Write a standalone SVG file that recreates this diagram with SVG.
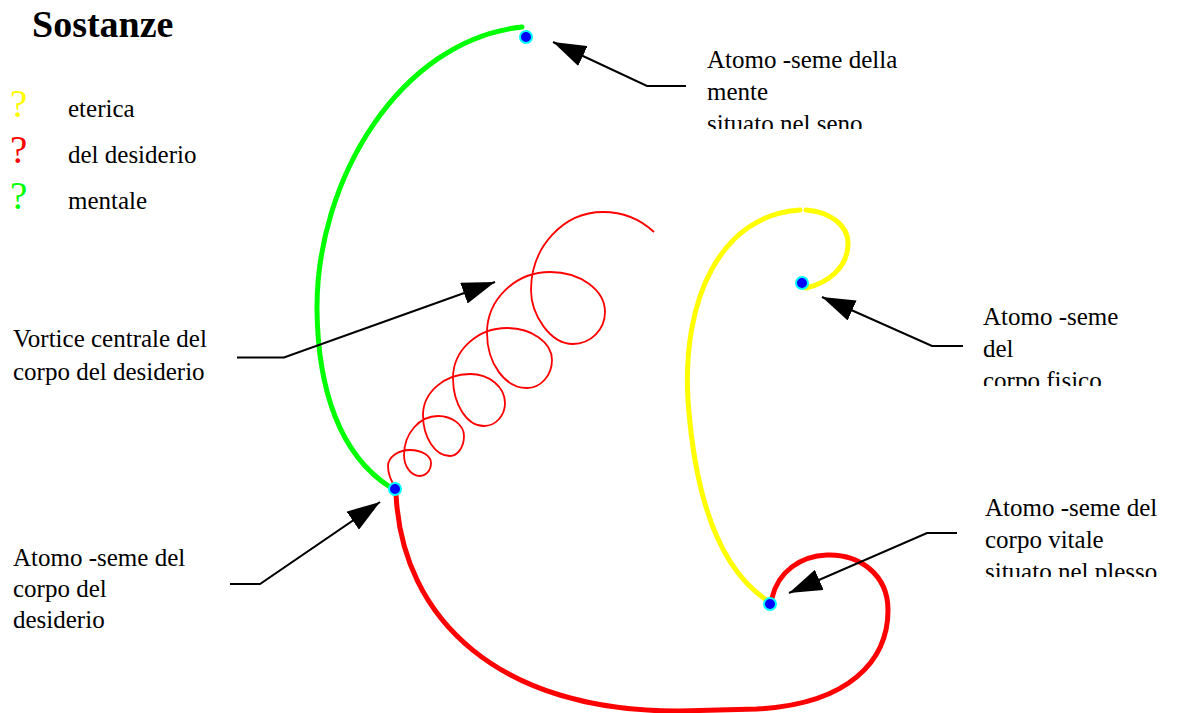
<svg xmlns="http://www.w3.org/2000/svg" width="1178" height="713" viewBox="0 0 1178 713">
<style>
text{font-family:"Liberation Serif","Times New Roman",serif;fill:#000}
.t{font-size:25px}
.title{font-size:38px;font-weight:bold}
.q{font-size:39px}
.thick{fill:none;stroke-width:5;stroke-linecap:round}
.ptr{fill:none;stroke:#000;stroke-width:2;marker-end:url(#ah)}
.node{fill:#0000FF;stroke:#00FFFF;stroke-width:2}
</style>
<defs>
<marker id="ah" markerUnits="userSpaceOnUse" viewBox="0 0 33 22" markerWidth="33" markerHeight="22" refX="33" refY="11" orient="auto">
<path d="M0,0 L33,11 L0,22 z" fill="#000"/>
</marker>
<clipPath id="c1"><rect x="690" y="40" width="300" height="89"/></clipPath>
<clipPath id="c2"><rect x="970" y="295" width="200" height="91"/></clipPath>
<clipPath id="c3"><rect x="970" y="490" width="208" height="87"/></clipPath>
</defs>
<rect width="1178" height="713" fill="#fff"/>

<g id="legend">
<text class="title" x="32" y="37">Sostanze</text>
<text class="q" x="10" y="117" style="fill:#FFFF00">?</text>
<text class="t" x="68" y="117">eterica</text>
<text class="q" x="10" y="163" style="fill:#FF0000">?</text>
<text class="t" x="68" y="163">del desiderio</text>
<text class="q" x="10" y="209" style="fill:#00FF00">?</text>
<text class="t" x="68" y="209">mentale</text>
</g>

<g id="curves">
<path id="green-arc" class="thick" stroke="#00FF00" d="M390,487 C340,455 318,390 317,310 C316,180 400,40 522,27"/>
<path id="yellow-arc" class="thick" stroke="#FFFF00" d="M768,601 C720,570 695,500 688,400 C682,300 720,215 800,210"/>
<path id="yellow-hook" class="thick" stroke="#FFFF00" d="M806,210 C830,212 849,225 848,245 C847,268 828,283 806,288"/>
<path id="red-arc" class="thick" stroke="#FF0000" d="M396,494 C402,620 500,712 680,711 L757,709 C850,704 888,660 888,610 C888,575 860,554 827,555 C800,556 778,572 772,598"/>
<path id="vortex" fill="none" stroke="#FF0000" stroke-width="1.8" d="M396,488 C390,480 388,474 388,466 C388,457.2 397.9,450 410,450 C421.6,450 431,455.9 431,463 C431,470.2 426.1,476 420,476 C411.2,476 404,466.6 404,455 C404,433.6 419.3,416 438,416 C452.3,416 464,425 464,436 C464,447 457.7,456 450,456 C435.2,456 423,437.6 423,415 C423,392.5 444.2,374 470,374 C489.3,374 505,387 505,403 C505,415.7 495.6,426 484,426 C467,426 453,404.4 453,378 C453,350.5 477.3,328 507,328 C531.8,328 552,342.4 552,360 C552,375.4 540.8,388 527,388 C505,388 487,363.3 487,333 C487,299.4 515.4,272 550,272 C580.3,272 605,290 605,312 C605,329.6 590.6,344 573,344 C549.9,344 531,314.3 531,290 C531,247.1 563.4,212 603,212 C622,212 640,219 654,232"/>
</g>

<g id="node-mente"><circle class="node" cx="526" cy="37" r="6"/></g>
<g id="node-desiderio"><circle class="node" cx="395" cy="489" r="6"/></g>
<g id="node-fisico"><circle class="node" cx="802" cy="283" r="6"/></g>
<g id="node-vitale"><circle class="node" cx="770" cy="604" r="6"/></g>

<g id="connectors">
<polyline class="ptr" points="686,86 647,86 553,42"/>
<polyline class="ptr" points="237,357.5 284,357.5 495,282"/>
<polyline class="ptr" points="963,346 932,346 822,297"/>
<polyline class="ptr" points="957,533 927,533 789,593"/>
<polyline class="ptr" points="230,584 260,584 380,502"/>
</g>

<g id="label-mente" clip-path="url(#c1)">
<text class="t" x="707" y="68">Atomo -seme della</text>
<text class="t" x="707" y="100">mente</text>
<text class="t" x="707" y="132">situato nel seno</text>
</g>
<g id="label-fisico" clip-path="url(#c2)">
<text class="t" x="983" y="325">Atomo -seme</text>
<text class="t" x="983" y="357">del</text>
<text class="t" x="983" y="389">corpo fisico</text>
</g>
<g id="label-vitale" clip-path="url(#c3)">
<text class="t" x="985" y="516">Atomo -seme del</text>
<text class="t" x="985" y="548">corpo vitale</text>
<text class="t" x="985" y="580">situato nel plesso</text>
</g>
<g id="label-vortice">
<text class="t" x="13" y="347">Vortice centrale del</text>
<text class="t" x="13" y="380">corpo del desiderio</text>
</g>
<g id="label-desiderio">
<text class="t" x="13" y="566">Atomo -seme del</text>
<text class="t" x="13" y="597">corpo del</text>
<text class="t" x="13" y="628">desiderio</text>
</g>
</svg>
